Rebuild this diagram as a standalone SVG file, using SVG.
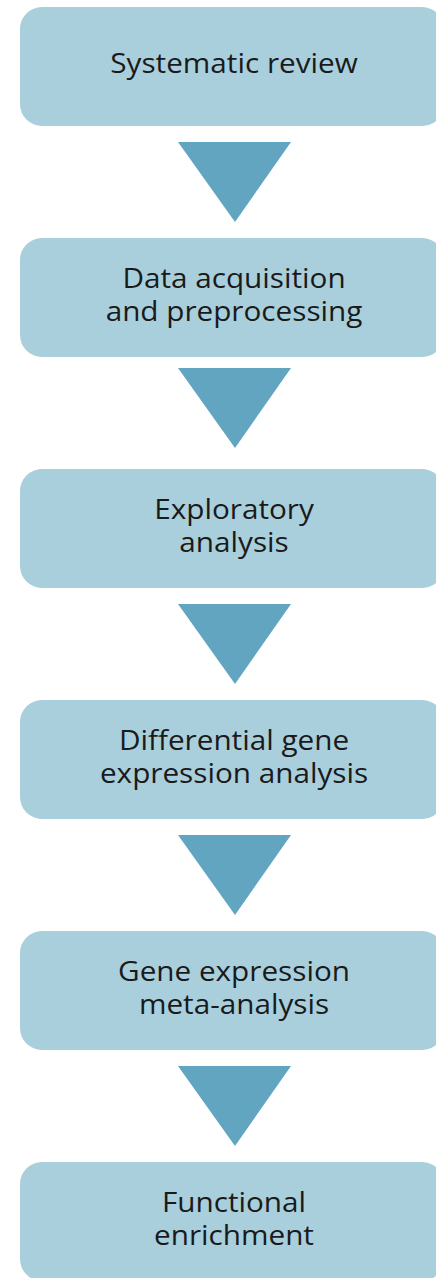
<svg xmlns="http://www.w3.org/2000/svg" width="436" height="1278" viewBox="0 0 436 1278">
<style>
.box{fill:#a9cfdd}
.arr{fill:#62a5c1}
text{font-family:"Open Sans","Noto Sans",sans-serif;font-size:27px;fill:#1a1a1a;text-anchor:middle}
.lbl{transform:translateX(234px) scaleX(1.1)}
</style>
<rect width="436" height="1278" fill="#ffffff"/>
<g id="n1"><rect class="box" x="20" y="7" width="424" height="119" rx="22"/><g transform="translate(234,0) scale(1.1,1)"><text x="0" y="73">Systematic review</text></g></g>
<g id="n2"><rect class="box" x="20" y="238" width="424" height="119" rx="22"/><g transform="translate(234,0) scale(1.1,1)"><text x="0" y="288">Data acquisition</text><text x="0" y="321">and preprocessing</text></g></g>
<g id="n3"><rect class="box" x="20" y="469" width="424" height="119" rx="22"/><g transform="translate(234,0) scale(1.1,1)"><text x="0" y="519">Exploratory</text><text x="0" y="552">analysis</text></g></g>
<g id="n4"><rect class="box" x="20" y="700" width="424" height="119" rx="22"/><g transform="translate(234,0) scale(1.1,1)"><text x="0" y="750">Differential gene</text><text x="0" y="783">expression analysis</text></g></g>
<g id="n5"><rect class="box" x="20" y="931" width="424" height="119" rx="22"/><g transform="translate(234,0) scale(1.1,1)"><text x="0" y="981">Gene expression</text><text x="0" y="1014">meta-analysis</text></g></g>
<g id="n6"><rect class="box" x="20" y="1162" width="424" height="119" rx="22"/><g transform="translate(234,0) scale(1.1,1)"><text x="0" y="1212">Functional</text><text x="0" y="1245">enrichment</text></g></g>
<g id="connectors">
<polygon class="arr" points="178,142 291,142 235,222"/>
<polygon class="arr" points="178,368 291,368 235,448"/>
<polygon class="arr" points="178,604 291,604 235,684"/>
<polygon class="arr" points="178,835 291,835 235,915"/>
<polygon class="arr" points="178,1066 291,1066 235,1146"/>
</g>
</svg>
